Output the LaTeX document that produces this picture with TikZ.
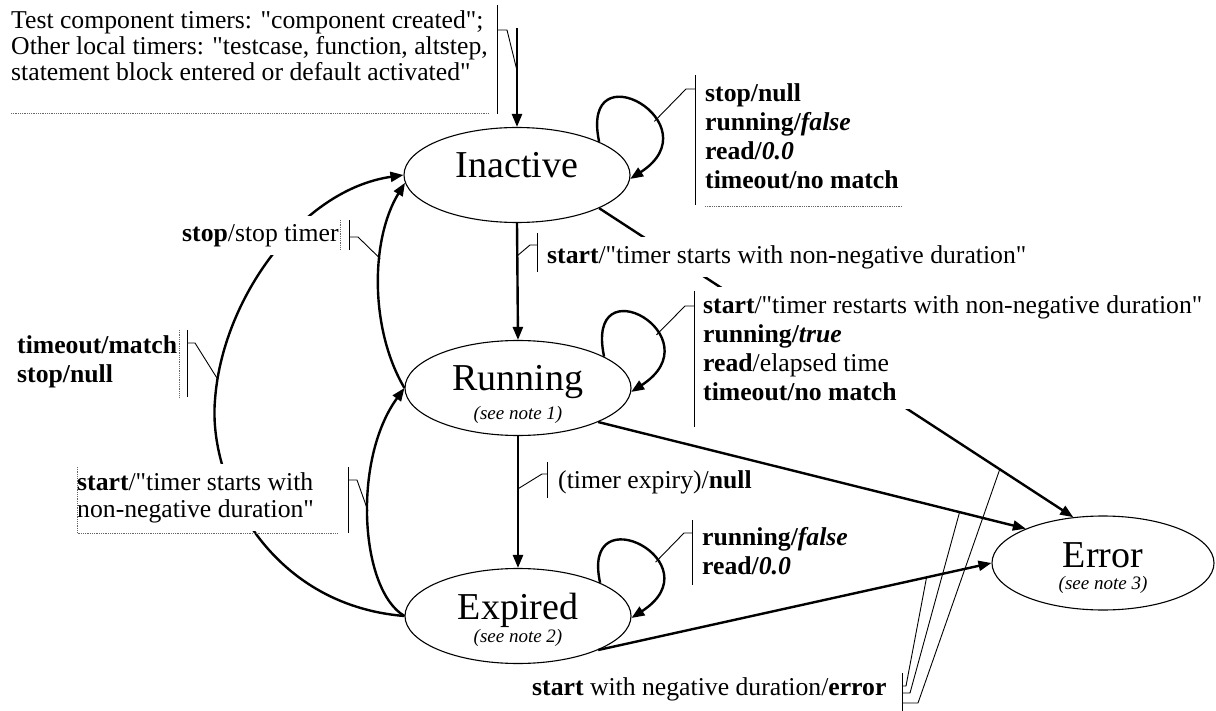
\documentclass[tikz,border=0pt]{standalone}
\usepackage{fontspec}
\setmainfont{Liberation Serif}[Ligatures=TeXOff]
\usetikzlibrary{arrows.meta,shapes.geometric,calc}
\begin{document}
\begin{tikzpicture}[x=1pt,y=-1pt,
  statebox/.style={ellipse, draw, line width=1.1pt, minimum width=226pt, minimum height=95pt, inner sep=0pt},
  trans/.style={line width=2.4pt, -{Triangle[length=13pt,width=10pt]}},
  leader/.style={line width=0.9pt},
  dotline/.style={line width=0.8pt, densely dotted, black!60},
  lab/.style={font=\fontsize{25.7}{29.3}\selectfont, align=left, anchor=north west, inner xsep=0pt, inner ysep=8pt, fill=white},
  big/.style={font=\fontsize{38}{40}\selectfont, anchor=base, inner sep=0pt},
  notetext/.style={font=\fontsize{19}{21}\selectfont\itshape, anchor=base, inner sep=0pt}]

\fill[white] (0,0) rectangle (1216,711);
\useasboundingbox (0,0) rectangle (1216,711);

% states
\node[statebox] (ina) at (517,175) {};
\node[big] (inaT) at (517,178) {Inactive};
\node[statebox] (run) at (518,388) {};
\node[big] (runT) at (518,390) {Running};
\node[notetext] (runN) at (518,419) {(see note 1)};
\node[statebox] (exp) at (518,616) {};
\node[big] (expT) at (518,619) {Expired};
\node[notetext] (expN) at (518,642) {(see note 2)};
\node[statebox, minimum width=222pt, minimum height=94pt] (err) at (1103,563) {};
\node[big] (errT) at (1103,567) {Error};
\node[notetext] (errN) at (1103,589) {(see note 3)};

% transitions
\coordinate (init) at (517,28);
\draw[trans] (init) -- (ina.north) coordinate[pos=0.43] (initpt);
\draw[trans] (ina.south) -- (run.north) coordinate[pos=0.28] (sp1);
\draw[trans] (run.south) -- (exp.north) coordinate[pos=0.40] (sp2);

\draw[trans] (ina.22) .. controls +(-20,-95) and +(85,-55) .. (ina.-2) coordinate[pos=0.65] (lpI);
\draw[trans] (run.20) .. controls +(-20,-95) and +(85,-55) .. (run.-2) coordinate[pos=0.65] (lpR);
\draw[trans] (exp.22) .. controls +(-20,-90) and +(85,-55) .. (exp.-1) coordinate[pos=0.65] (lpE);

\draw[trans] (run.west) .. controls (370,330) and (370,240) .. (ina.184) coordinate[pos=0.62] (ip);
\draw[trans] (exp.west) .. controls (268,605) and (208,480) .. (215,400)
   .. controls (222,300) and (300,190) .. (ina.west) coordinate[pos=0.07] (op);
\draw[trans] (exp.west) .. controls (360,590) and (352,460) .. (run.west) coordinate[pos=0.53] (lp);

\draw[trans] (ina.-22) -- (err.123) coordinate[pos=0.845] (q3);
\draw[trans] (run.-23) -- (err.156) coordinate[pos=0.845] (q2);
\draw[trans] (exp.-23) -- (err.west) coordinate[pos=0.835] (q1);

% labels
\node[lab, font=\fontsize{25.7}{25.7}\selectfont] (noteTop) at (11,2.6) {Test component timers: "component created";\\Other local timers: "testcase, function, altstep,\\statement block entered or default activated"};
\node[lab] (labIna) at (705,75) {\textbf{stop/null}\\\textbf{running/\textit{false}}\\\textbf{read/\textit{0.0}}\\\textbf{timeout/no match}};
\node[lab] (labStart) at (547,237) {\textbf{start}/"timer starts with non-negative duration"};
\node[lab] (labRun) at (703,287) {\textbf{start}/"timer restarts with non-negative duration"\\\textbf{running/\textit{true}}\\\textbf{read}/elapsed time\\\textbf{timeout/no match}};
\node[lab] (labExpiry) at (558,462) {(timer expiry)/\textbf{null}};
\node[lab, font=\fontsize{25.7}{29}\selectfont] (labExp) at (702,519) {\textbf{running/\textit{false}}\\\textbf{read/\textit{0.0}}};
\node[lab] (labStop) at (182,216) {\textbf{stop}/stop timer};
\node[lab, font=\fontsize{25.7}{29}\selectfont] (labTimeout) at (17,327) {\textbf{timeout/match}\\\textbf{stop/null}};
\node[lab, font=\fontsize{25.7}{27.5}\selectfont] (labStart2) at (77,464) {\textbf{start}/"timer starts with\\non-negative duration"};
\node[lab] (labNeg) at (532,669) {\textbf{start} with negative duration/\textbf{error}};

% annotation bars and leaders
\draw[dotline] (11,113) -- (489,113);
\draw[leader] (497,5) -- (497,114);
\draw[leader] (497,30) -- (507,30) -- (initpt);

\draw[leader] (695,75) -- (695,205);
\draw[leader] (lpI) -- (686,89) -- (695,89);
\draw[dotline] (705,206) -- (902,206);

\draw[leader] (537,233) -- (537,272);
\draw[leader] (sp1) -- (530,245) -- (537,245);

\draw[leader] (694,291) -- (694,427);
\draw[leader] (lpR) -- (685,306) -- (694,306);

\draw[leader] (547,462) -- (547,498);
\draw[leader] (sp2) -- (542,474) -- (547,474);

\draw[leader] (692,520) -- (692,585);
\draw[leader] (lpE) -- (684,533) -- (692,533);

\draw[dotline] (340,220) -- (340,250);
\draw[leader] (349,220) -- (349,250);
\draw[leader] (ip) -- (358,237) -- (349,237);

\draw[dotline] (179,330) -- (179,397);
\draw[leader] (187,330) -- (187,397);
\draw[leader] (op) -- (195,343) -- (187,343);

\draw[dotline] (77,467) -- (77,533) -- (337,533);
\draw[leader] (348,467) -- (348,533);
\draw[leader] (lp) -- (357,480) -- (348,480);

\draw[leader] (902,673) -- (902,711);
\draw[leader] (902,686) -- (906,686) -- (q1);
\draw[leader] (902,693) -- (910,693) -- (q2);
\draw[leader] (902,703) -- (918,703) -- (q3);
\end{tikzpicture}
\end{document}
